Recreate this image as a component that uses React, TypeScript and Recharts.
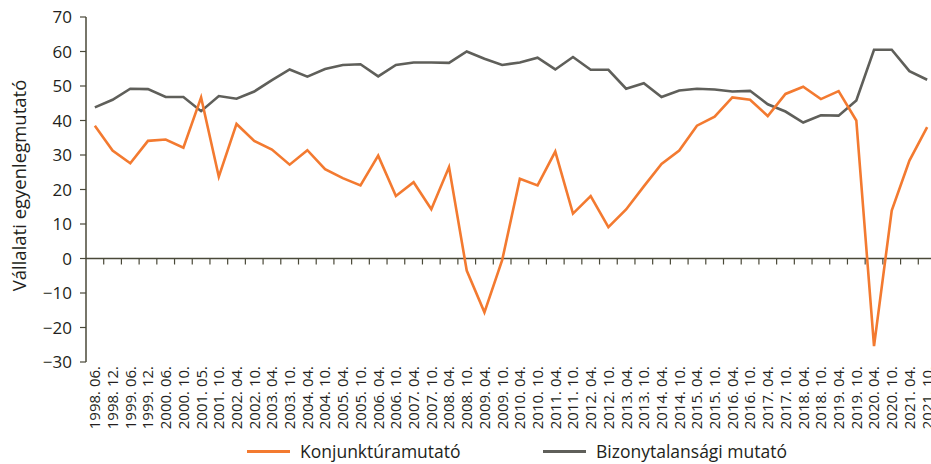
import React from 'react';
import { LineChart, Line, XAxis, YAxis, ReferenceLine, Legend } from 'recharts';

const categories = [
  '1998. 06.', '1998. 12.', '1999. 06.', '1999. 12.', '2000. 06.', '2000. 10.',
  '2001. 05.', '2001. 10.', '2002. 04.', '2002. 10.', '2003. 04.', '2003. 10.',
  '2004. 04.', '2004. 10.', '2005. 04.', '2005. 10.', '2006. 04.', '2006. 10.',
  '2007. 04.', '2007. 10.', '2008. 04.', '2008. 10.', '2009. 04.', '2009. 10.',
  '2010. 04.', '2010. 10.', '2011. 04.', '2011. 10.', '2012. 04.', '2012. 10.',
  '2013. 04.', '2013. 10.', '2014. 04.', '2014. 10.', '2015. 04.', '2015. 10.',
  '2016. 04.', '2016. 10.', '2017. 04.', '2017. 10.', '2018. 04.', '2018. 10.',
  '2019. 04.', '2019. 10.', '2020. 04.', '2020. 10.', '2021. 04.', '2021. 10.',
];

const konjunktura = [
  38.5, 31.3, 27.6, 34.1, 34.5, 32.1, 46.7, 23.7, 39.0, 34.1, 31.6, 27.2,
  31.4, 25.9, 23.3, 21.2, 29.8, 18.1, 22.1, 14.3, 26.5, -3.5, -15.6, -0.5,
  23.1, 21.2, 31.0, 13.0, 18.1, 9.1, 14.2, 20.9, 27.4, 31.3, 38.5, 41.1,
  46.7, 46.0, 41.3, 47.7, 49.8, 46.2, 48.5, 40.0, -25.4, 13.9, 28.4, 38.1,
];

const bizonytalansag = [
  43.8, 46.0, 49.2, 49.1, 46.8, 46.8, 42.7, 47.1, 46.3, 48.4, 51.7, 54.8,
  52.7, 54.9, 56.1, 56.3, 52.8, 56.1, 56.8, 56.8, 56.7, 60.0, 57.9, 56.1,
  56.8, 58.2, 54.8, 58.4, 54.7, 54.7, 49.2, 50.8, 46.8, 48.7, 49.2, 49.0,
  48.4, 48.6, 44.7, 42.6, 39.4, 41.5, 41.4, 45.8, 60.5, 60.5, 54.3, 51.8,
];

const yTicks = [-30, -20, -10, 0, 10, 20, 30, 40, 50, 60, 70];

const seriesNames = { konj: 'Konjunktúramutató', biz: 'Bizonytalansági mutató' };
const yLabelText = 'Vállalati egyenlegmutató';

const data = categories.map((c, i) => ({
  period: c,
  konj: konjunktura[i],
  biz: bizonytalansag[i],
}));

const CHART_W = 940;
const CHART_H = 464;
const Y_AXIS_W = 86;
const MARGIN = { top: 17, right: 4, bottom: 0, left: 0 };
const PLOT_W = CHART_W - Y_AXIS_W - MARGIN.right - MARGIN.left;
const PAD = PLOT_W / (2 * categories.length);

const AXIS = '#4a4939';
const ORANGE = '#f37a30';
const GREY = '#5f5f5a';
const TEXT = '#231f20';
const FONT = '"Open Sans", "Noto Sans", sans-serif';

const fmtY = (v: number) => String(v).replace('-', '\u2212');

function XTick(props: any) {
  const { x, y, payload } = props;
  return (
    <g transform={`translate(${x},${y})`}>
      <text
        transform="rotate(-90)"
        x={0}
        y={0}
        textAnchor="end"
        dy="0.36em"
        fontSize={15}
        fill={TEXT}
        fontFamily={FONT}
      >
        {payload.value}
      </text>
    </g>
  );
}

function ZeroAxis(props: any) {
  const { x1, x2, y1 } = props;
  const left = Math.min(x1, x2);
  const right = Math.max(x1, x2);
  const n = categories.length;
  const step = (right - left) / n;
  const ticks = [];
  for (let k = 1; k <= n; k++) {
    const tx = left + k * step;
    ticks.push(<line key={k} x1={tx} x2={tx} y1={y1} y2={y1 + 6} stroke={AXIS} strokeWidth={1.2} />);
  }
  return (
    <g>
      <line x1={left} x2={right} y1={y1} y2={y1} stroke={AXIS} strokeWidth={1.5} />
      {ticks}
    </g>
  );
}

function YLabel(props: any) {
  const vb = props.viewBox || { x: 0, y: 17, width: 86, height: 345 };
  const cx = vb.x + 18;
  const cy = vb.y + vb.height / 2 - 4;
  return (
    <text
      x={cx}
      y={cy}
      transform={`rotate(-90, ${cx}, ${cy})`}
      textAnchor="middle"
      dominantBaseline="central"
      fontSize={18.5}
      fill={TEXT}
      fontFamily={FONT}
    >
      {yLabelText}
    </text>
  );
}

function LegendContent() {
  const lineStyle = (left: number, color: string): React.CSSProperties => ({
    position: 'absolute', left, top: 16, width: 43, height: 3, background: color,
  });
  const textStyle = (left: number): React.CSSProperties => ({
    position: 'absolute', left, top: 5, lineHeight: '24px', whiteSpace: 'nowrap',
  });
  return (
    <div style={{ position: 'relative', height: 30, width: CHART_W, fontFamily: FONT, fontSize: 17.5, color: TEXT }}>
      <span style={lineStyle(247, ORANGE)} />
      <span style={textStyle(300)}>{seriesNames.konj}</span>
      <span style={lineStyle(543, GREY)} />
      <span style={textStyle(596)}>{seriesNames.biz}</span>
    </div>
  );
}

export default function App() {
  return (
    <div style={{ position: 'absolute', left: 0, top: 0, width: 931, height: 464, overflow: 'hidden', background: '#fff' }}>
      <LineChart width={CHART_W} height={CHART_H} data={data} margin={MARGIN}>
        <XAxis
          dataKey="period"
          type="category"
          interval={0}
          axisLine={false}
          tickLine={false}
          tickSize={0}
          tickMargin={4}
          height={72}
          padding={{ left: PAD, right: PAD }}
          tick={<XTick />}
        />
        <YAxis
          type="number"
          domain={[-30, 70]}
          ticks={yTicks}
          interval={0}
          width={Y_AXIS_W}
          axisLine={{ stroke: AXIS, strokeWidth: 1.5 }}
          tickLine={{ stroke: AXIS, strokeWidth: 1.2 }}
          tickSize={6}
          tickMargin={8}
          tickFormatter={fmtY}
          tick={{ fill: TEXT, fontSize: 17, fontFamily: FONT }}
          label={{ content: YLabel }}
        />
        <ReferenceLine y={0} shape={ZeroAxis} ifOverflow="extendDomain" />
        <Legend
          verticalAlign="bottom"
          align="left"
          height={30}
          content={LegendContent}
          wrapperStyle={{ left: 0, bottom: 0, width: CHART_W, height: 30 }}
        />
        <Line
          type="linear"
          dataKey="biz"
          name={seriesNames.biz}
          stroke={GREY}
          strokeWidth={2.6}
          dot={false}
          activeDot={false}
          isAnimationActive={false}
        />
        <Line
          type="linear"
          dataKey="konj"
          name={seriesNames.konj}
          stroke={ORANGE}
          strokeWidth={2.6}
          dot={false}
          activeDot={false}
          isAnimationActive={false}
        />
      </LineChart>
    </div>
  );
}
